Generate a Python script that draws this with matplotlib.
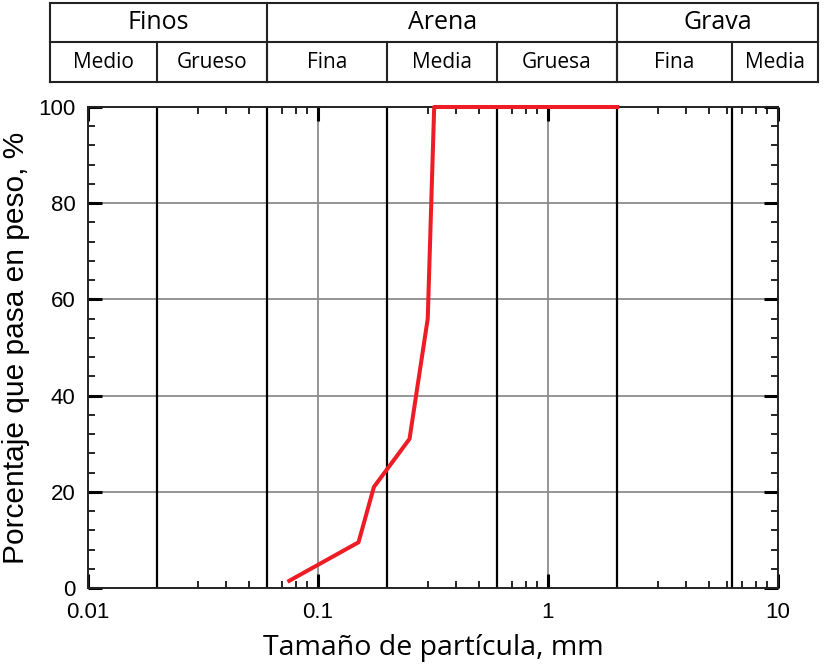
import matplotlib
matplotlib.use("Agg")
import matplotlib.pyplot as plt
import matplotlib.transforms as mtransforms
from matplotlib.ticker import FixedLocator, LogLocator, NullFormatter, MultipleLocator
import numpy as np

# Curva granulométrica
tamano = [0.075, 0.15, 0.175, 0.25, 0.30, 0.32, 2.0]
pasa = [1.5, 9.5, 21.0, 31.0, 56.0, 100.0, 100.0]

# Límites de clasificación (mm)
limites = [0.02, 0.06, 0.2, 0.6, 2.0, 6.3]

# Encabezado de la tabla
grupos = ["Finos", "Arena", "Grava"]
grupos_limites = [0.06, 2.0]
subgrupos = ["Medio", "Grueso", "Fina", "Media", "Gruesa", "Fina", "Media"]

f_tabla = "Open Sans"
f_num = "Liberation Sans"

fig = plt.figure(figsize=(8.29, 6.72), dpi=100)
ax = fig.add_axes([88 / 829, 1 - 588 / 672, 690 / 829, 481 / 672])

ax.set_xscale("log")
ax.set_xlim(0.01, 10)
ax.set_ylim(0, 100)

# rejilla gris
for xv in [0.1, 1]:
    ax.axvline(xv, color="#8c8c8c", lw=1.3, zorder=1)
for yv in [20, 40, 60, 80]:
    ax.axhline(yv, color="#8c8c8c", lw=1.3, zorder=1)

# líneas de clasificación
for xv in limites:
    ax.axvline(xv, color="black", lw=1.6, zorder=2)

ax.plot(tamano, pasa, color="#ee1c25", lw=2.9, zorder=3, clip_on=False)

# ejes y marcas
for s in ax.spines.values():
    s.set_linewidth(1.4)
    s.set_color("#222222")

ax.xaxis.set_major_locator(FixedLocator([0.01, 0.1, 1, 10]))
ax.xaxis.set_minor_locator(LogLocator(base=10, subs=np.arange(2, 10)))
ax.xaxis.set_minor_formatter(NullFormatter())
ax.set_xticklabels(["0.01", "0.1", "1", "10"])
ax.yaxis.set_major_locator(MultipleLocator(20))
ax.yaxis.set_minor_locator(MultipleLocator(4))

ax.tick_params(axis="both", which="both", direction="in", top=True, right=True,
               labelsize=16, color="black")
ax.tick_params(axis="both", which="major", length=10, width=2.2)
ax.tick_params(axis="x", which="major", pad=10)
ax.tick_params(axis="y", which="major", pad=9)
ax.tick_params(axis="both", which="minor", length=5, width=1.2)
for lab in ax.get_xticklabels() + ax.get_yticklabels():
    lab.set_fontfamily(f_num)

ax.set_xlabel("Tamaño de partícula, mm", fontsize=20.5, labelpad=8, fontfamily=f_tabla)
ax.set_ylabel("Porcentaje que pasa en peso, %", fontsize=21.5, labelpad=6, fontfamily=f_num)

# tabla de clasificación arriba
tr = mtransforms.blended_transform_factory(ax.transAxes, fig.transFigure)


def fx(v):
    return (np.log10(v) + 2) / 3


x_izq = -38 / 690
x_der = 730 / 690
y_arr = 1 - 3 / 672
y_med = 1 - 42 / 672
y_aba = 1 - 82 / 672

lw_t = 1.5
for yv in [y_arr, y_med, y_aba]:
    fig.add_artist(plt.Line2D([x_izq, x_der], [yv, yv], transform=tr, color="#222222", lw=lw_t))
for xv in [x_izq, x_der]:
    fig.add_artist(plt.Line2D([xv, xv], [y_aba, y_arr], transform=tr, color="#222222", lw=lw_t))
for v in grupos_limites:
    fig.add_artist(plt.Line2D([fx(v), fx(v)], [y_aba, y_arr], transform=tr, color="#222222", lw=lw_t))
for v in limites:
    fig.add_artist(plt.Line2D([fx(v), fx(v)], [y_aba, y_med], transform=tr, color="#222222", lw=lw_t))

bordes_g = [x_izq] + [fx(v) for v in grupos_limites] + [x_der]
for i, txt in enumerate(grupos):
    fig.text((bordes_g[i] + bordes_g[i + 1]) / 2, (y_arr + y_med) / 2, txt, transform=tr,
             ha="center", va="center", fontsize=18, fontfamily=f_tabla)

bordes_s = [x_izq] + [fx(v) for v in limites] + [x_der]
for i, txt in enumerate(subgrupos):
    fig.text((bordes_s[i] + bordes_s[i + 1]) / 2, (y_med + y_aba) / 2, txt, transform=tr,
             ha="center", va="center", fontsize=15, fontfamily=f_tabla)

fig.savefig("out.png", dpi=100)
